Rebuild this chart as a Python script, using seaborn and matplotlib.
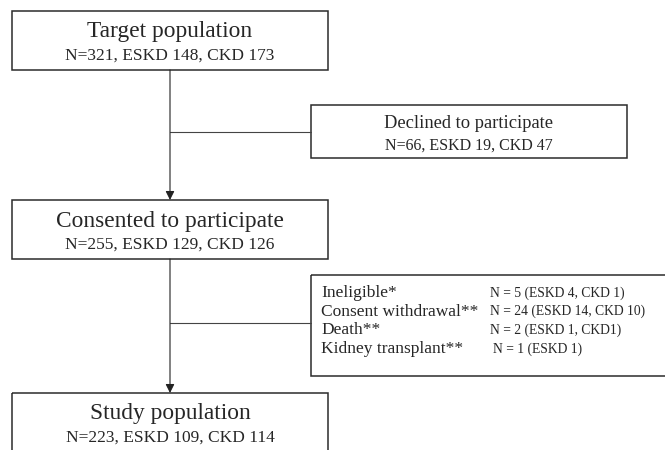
import matplotlib
matplotlib.use("Agg")
import matplotlib.pyplot as plt
from matplotlib.patches import Rectangle
import seaborn as sns

# flow stages and counts
stages = ["Target population", "Consented to participate", "Study population"]
stage_n = [321, 255, 223]
stage_eskd = [148, 129, 109]
stage_ckd = [173, 126, 114]

declined_n, declined_eskd, declined_ckd = 66, 19, 47

excl_reasons = ["Ineligible*", "Consent withdrawal**", "Death**", "Kidney transplant**"]
excl_counts = ["N = 5 (ESKD 4, CKD 1)", "N = 24 (ESKD 14, CKD 10)",
               "N = 2 (ESKD 1, CKD1)", "N = 1 (ESKD 1)"]

sns.set_theme(style="white")
plt.rcParams['font.family'] = ['Liberation Serif', 'DejaVu Serif']

fig = plt.figure(figsize=(6.65, 4.5), dpi=100)
ax = fig.add_axes([0, 0, 1, 1])
ax.set_xlim(0, 665)
ax.set_ylim(450, 0)
ax.axis('off')

edge = '#2b2b2b'
line_c = '#444444'

def box(x0, y0, x1, y1):
    ax.add_patch(Rectangle((x0, y0), x1 - x0, y1 - y0, fill=False,
                           edgecolor=edge, linewidth=1.1, clip_on=False))

# main boxes
main_y = [(11, 70), (200, 259), (393, 470)]
for i, (y0, y1) in enumerate(main_y):
    box(12, y0, 328, y1)
    ax.text(170, y0 + 21, stages[i], ha='center', va='center', fontsize=16.8)
    ax.text(170, y0 + 45, f"N={stage_n[i]}, ESKD {stage_eskd[i]}, CKD {stage_ckd[i]}",
            ha='center', va='center', fontsize=12.5)

# arrows between main boxes
for (a0, a1), (b0, b1) in zip(main_y[:-1], main_y[1:]):
    ax.annotate('', xy=(170, b0), xytext=(170, a1),
                arrowprops=dict(arrowstyle='-|>', color='#222222', lw=0.8,
                                mutation_scale=13, shrinkA=0, shrinkB=0))

# declined box
box(311, 105, 627, 158)
ax.plot([170, 311], [132, 132], color=line_c, lw=0.8)
ax.text(469, 124, "Declined to participate", ha='center', va='center', fontsize=13.3)
ax.text(469, 146, f"N={declined_n}, ESKD {declined_eskd}, CKD {declined_ckd}",
        ha='center', va='center', fontsize=11.5)

# exclusion box
box(311, 275, 680, 376)
ax.plot([170, 311], [323, 323], color=line_c, lw=0.8)
row_y = [293, 311.5, 330, 349]
count_x = [490, 490, 490, 493]
for r, c, yy, cx in zip(excl_reasons, excl_counts, row_y, count_x):
    ax.text(321, yy, r, ha='left', va='center', fontsize=12.5)
    ax.text(cx, yy, c, ha='left', va='center', fontsize=9.8)

fig.savefig('out.png', dpi=100, facecolor='white')
